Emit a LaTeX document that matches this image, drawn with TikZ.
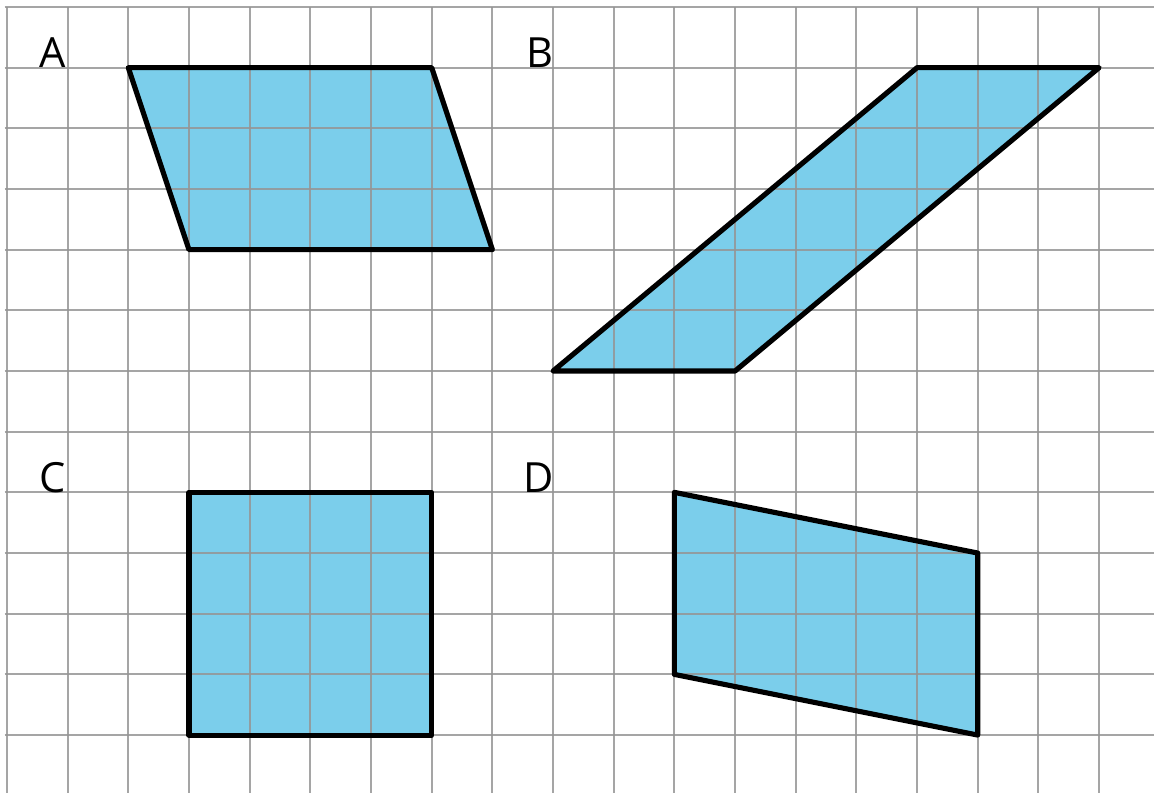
\documentclass[tikz,border=0pt]{standalone}
\usepackage{fontspec}
\setmainfont{Open Sans}
\definecolor{shapefill}{HTML}{7BCEEB}
\definecolor{gridgray}{HTML}{959595}
\begin{document}
\begin{tikzpicture}[
  shapefig/.style={fill=shapefill, draw=none},
  shapeline/.style={draw=black, line width=2.4pt, line join=round},
  gridline/.style={draw=gridgray, line width=1.0pt, opacity=0.85},
  lbl/.style={font=\fontsize{19.5}{22}\selectfont, anchor=base, inner sep=0pt}
]
\useasboundingbox (-0.115,0.115) rectangle (18.905,-12.955);
% fills
\fill[shapefig] (2,-1) -- (7,-1) -- (8,-4) -- (3,-4) -- cycle;
\fill[shapefig] (15,-1) -- (18,-1) -- (12,-6) -- (9,-6) -- cycle;
\fill[shapefig] (3,-8) rectangle (7,-12);
\fill[shapefig] (11,-8) -- (16,-9) -- (16,-12) -- (11,-11) -- cycle;
% grid
\foreach \i in {0,...,18} {\draw[gridline] (\i,0) -- (\i,-12.955);}
\foreach \j in {0,...,12} {\draw[gridline] (-0.04,-\j) -- (18.905,-\j);}
% outlines
\coordinate (a1) at (2,-1); \coordinate (a2) at (7,-1); \coordinate (a3) at (8,-4); \coordinate (a4) at (3,-4);
\coordinate (b1) at (15,-1); \coordinate (b2) at (18,-1); \coordinate (b3) at (12,-6); \coordinate (b4) at (9,-6);
\coordinate (c1) at (3,-8); \coordinate (c2) at (7,-8); \coordinate (c3) at (7,-12); \coordinate (c4) at (3,-12);
\coordinate (d1) at (11,-8); \coordinate (d2) at (16,-9); \coordinate (d3) at (16,-12); \coordinate (d4) at (11,-11);
\draw[shapeline] (a1) -- (a2) -- (a3) -- (a4) -- cycle;
\draw[shapeline] (b1) -- (b2) -- (b3) -- (b4) -- cycle;
\draw[shapeline] (c1) -- (c2) -- (c3) -- (c4) -- cycle;
\draw[shapeline] (d1) -- (d2) -- (d3) -- (d4) -- cycle;
% labels
\node[lbl] (la) at (0.76,-1) {A};
\node[lbl] (lb) at (8.78,-1) {B};
\node[lbl] (lc) at (0.76,-8) {C};
\node[lbl] (ld) at (8.77,-8) {D};
\end{tikzpicture}
\end{document}
